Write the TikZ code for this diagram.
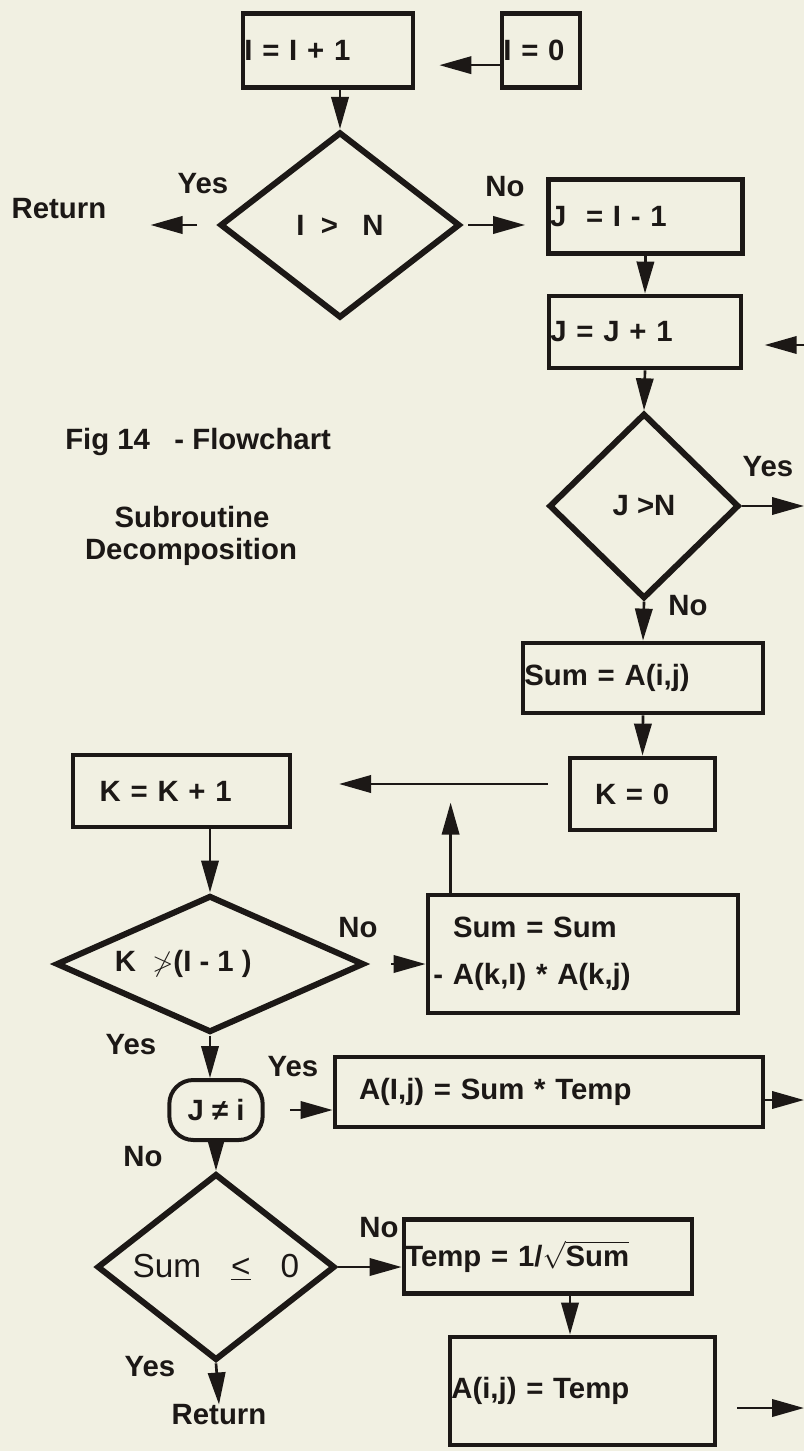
\documentclass[tikz,border=0pt]{standalone}
\usepackage{fontspec}
\setmainfont{Liberation Sans}
\usetikzlibrary{shapes.geometric,arrows.meta}
\definecolor{paper}{RGB}{241,240,226}
\definecolor{ink}{RGB}{28,24,22}

\begin{document}
\begin{tikzpicture}[x=0.75pt,y=-0.75pt,
    font=\fontsize{22}{26}\selectfont\bfseries,
    every node/.style={text=ink},
    box/.style={draw=ink,line width=3.6pt,align=left,inner xsep=1pt,inner ysep=0pt},
    dia/.style={draw=ink,diamond,line width=4.5pt,inner sep=0pt},
    arr/.style={draw=ink,line width=2pt,-{Triangle[length=24pt,width=13pt]}},
    lbl/.style={inner sep=0pt}]

    % 背景
    \fill[paper] (0,0) rectangle (804,1451);
    \useasboundingbox (0,0) rectangle (804,1451);

    % 上部: I 循环
    \node[box,minimum width=127.5pt,minimum height=56pt,text width=125.5pt] (iinc) at (328,50.5) {I = I + 1};
    \node[box,minimum width=58.5pt,minimum height=56pt,text width=56.5pt] (izero) at (541,50.5) {I = 0};
    \node[dia,minimum width=180pt,minimum height=139.5pt,shape aspect=1.29] (dI) at (340,225) {I \ >\ \ \ N};
    \node[lbl] (yesI) at (203,184) {Yes};
    \node[lbl] (retI) at (59,209) {Return};
    \node[lbl] (noI) at (505,187) {No};

    % 右侧: J 循环
    \node[box,minimum width=145pt,minimum height=55pt,text width=143pt] (jinit) at (645.5,216.5) {J \ = I - 1};
    \node[box,minimum width=144pt,minimum height=54pt,text width=142pt] (jinc) at (645,332) {J = J + 1};
    \node[dia,minimum width=142.5pt,minimum height=139pt,shape aspect=1.02] (dJ) at (644,506) {J >N};
    \node[lbl] (yesJ) at (768,467) {Yes};
    \node[lbl] (noJ) at (688,606) {No};
    \node[box,minimum width=180pt,minimum height=52.5pt,text width=178pt] (sumA) at (643,678) {Sum = A(i,j)};
    \node[box,minimum width=108.75pt,minimum height=54pt,inner xsep=18.75pt,text width=71.25pt] (kzero) at (642.5,794) {K = 0};

    % 说明文字
    \node[lbl,anchor=west] (fig) at (65,442) {Fig 14\ \ \ - Flowchart};
    \node[lbl] (sub) at (192,517) {Subroutine};
    \node[lbl] (dec) at (191,552) {Decomposition};

    % K 循环
    \node[box,minimum width=162.75pt,minimum height=54pt,inner xsep=20pt,text width=122.75pt] (kinc) at (181.5,791) {K = K + 1};
    \node[dia,minimum width=231pt,minimum height=102.75pt,shape aspect=2.25] (dK) at (210,964) {K \ $\not>$(I - 1 )\hspace*{40pt}};
    \node[lbl] (noK) at (358,928) {No};
    \node[box,minimum width=232.5pt,minimum height=88.5pt,inner xsep=18.75pt,text width=195pt,
          font=\fontsize{22}{35}\selectfont\bfseries] (sumsum) at (583,954) {Sum = Sum\\\leavevmode\llap{- }A(k,I) * A(k,j)};

    % 下部
    \node[lbl] (yesK) at (131,1045) {Yes};
    \node[draw=ink,line width=3pt,rounded corners=18pt,minimum width=70pt,minimum height=45pt,inner sep=0pt] (joval) at (216,1110) {J ≠ i};
    \node[lbl] (yesA) at (293,1067) {Yes};
    \node[box,minimum width=321pt,minimum height=52.5pt,inner xsep=18pt,text width=285pt] (asum) at (549,1092) {A(I,j) = Sum * Temp};
    \node[lbl] (noJo) at (143,1157) {No};
    \node[dia,minimum width=178.5pt,minimum height=140pt,shape aspect=1.275,font=\fontsize{25}{28}\selectfont\mdseries] (dS) at (216,1267) {Sum\hspace{0.9em}\underline{<}\hspace{0.9em}0\\[-8pt]\mbox{}};
    \node[lbl] (noS) at (379,1228) {No};
    \node[lbl] (yesS) at (150,1367) {Yes};
    \node[lbl] (retS) at (219,1415) {Return};
    \node[box,minimum width=216pt,minimum height=55pt,text width=214pt] (temp) at (548,1256.5) {Temp = 1/$\sqrt{\mbox{Sum}}$};
    \node[box,minimum width=198.75pt,minimum height=81pt,text width=196.75pt] (aval) at (582.5,1391) {A(i,j) = Temp};

    % 连线
    \draw[arr, shorten >=18pt] ([yshift=-11pt]izero.west) -- ([yshift=-11pt]izero.west -| iinc.east);
    \draw[arr] (iinc.south -| dI.north) -- (dI.north);
    \draw[arr, shorten <=15pt, shorten >=33pt] (dI.west) -- (dI.west -| retI.east);
    \draw[arr, shorten <=4pt, shorten >=16pt] (dI.east) -- (dI.east -| jinit.west);
    \draw[arr] (jinit.south) -- (jinc.north);
    \coordinate (jback) at (804,345);
    \draw[arr, shorten >=16pt] (jback) -- (jback -| jinc.east);
    \draw[arr] (jinc.south) -- (dJ.north);
    \coordinate (jout) at (804,506);
    \draw[arr] (dJ.east) -- (jout);
    \draw[arr] (dJ.south) -- (sumA.north);
    \draw[arr] (sumA.south) -- (kzero.north);
    \draw[arr, shorten <=15pt, shorten >=35pt] ([yshift=7.5pt]kzero.west) -- ([yshift=7.5pt]kzero.west -| kinc.east);
    \draw[arr] (kinc.south -| dK.north) -- (dK.north);
    \draw[arr, shorten <=18pt] (dK.east) -- (dK.east -| sumsum.west);
    \draw[arr] ([xshift=18.75pt]sumsum.north west) -- ++(0,-90);
    \draw[arr] (dK.south) -- (dK.south |- joval.north);
    \draw[arr, shorten <=19pt] (joval.east) -- (joval.east -| asum.west);
    \coordinate (aout) at (804,1100);
    \draw[arr] (asum.east |- aout) -- (aout);
    \draw[arr] (joval.south) -- (dS.north);
    \draw[arr] (dS.east) -- (dS.east -| temp.west);
    \draw[arr] ([xshift=16.5pt]temp.south) -- ([xshift=16.5pt]temp.south |- aval.north);
    \coordinate (vout) at (804,1408);
    \draw[arr, shorten <=15pt] (aval.east |- vout) -- (vout);
    \draw[arr] (dS.south) -- (retS.north);
\end{tikzpicture}
\end{document}
